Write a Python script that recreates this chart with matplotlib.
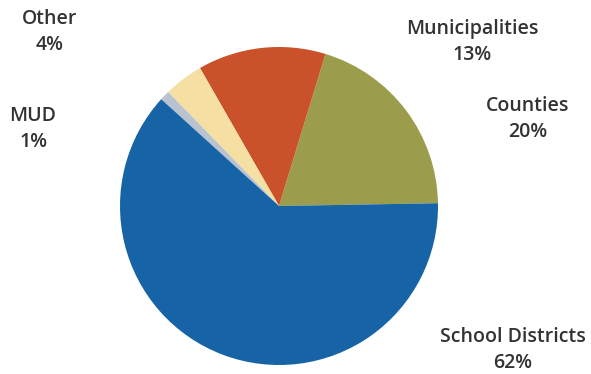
import matplotlib
matplotlib.use("Agg")
import matplotlib.pyplot as plt

# Share of revenue by entity type, drawn counter-clockwise from the right
categories = ["Counties", "Municipalities", "Other", "MUD", "School Districts"]
shares = [20, 13, 4, 1, 62]
colors = ["#9b9d4d", "#c9522b", "#f6dfa2", "#b9c2cf", "#1663a6"]

W, H = 591, 374
fig = plt.figure(figsize=(W / 100, H / 100), dpi=100)
ax = fig.add_axes([0, 0, 1, 1])

ax.pie(shares, colors=colors, startangle=1, counterclock=True,
       center=(279, H - 206), radius=159, frame=True,
       wedgeprops=dict(linewidth=0))
ax.set_xlim(0, W)
ax.set_ylim(0, H)
ax.set_aspect("equal")
ax.axis("off")

# Label positions in pixel space (x, y from top)
label_pos = {
    "Counties": (528, 119),
    "Municipalities": (472, 42),
    "Other": (50, 32),
    "MUD": (33, 129),
    "School Districts": (513, 350),
}
for name, val in zip(categories, shares):
    x, y = label_pos[name]
    ax.text(x, H - y, f"{name}\n{val}%", ha="center", va="center",
            fontsize=14, fontweight="semibold", family="Open Sans",
            color="#333333", linespacing=1.45)

fig.savefig("out.png", dpi=100)
